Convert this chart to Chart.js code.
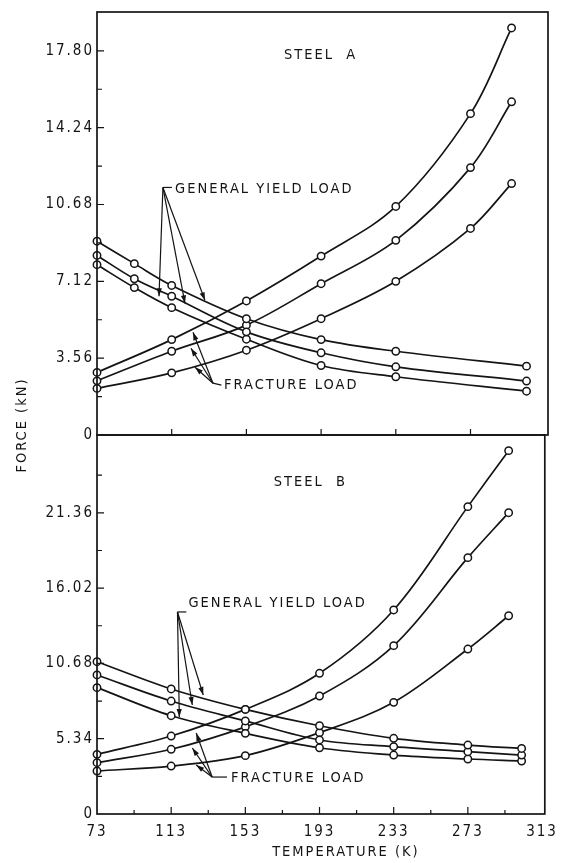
<!DOCTYPE html>
<html><head><meta charset="utf-8">
<script src="https://cdn.jsdelivr.net/npm/chart.js@4/dist/chart.umd.min.js"></script>
<style>
html,body{margin:0;padding:0;background:#fff;}
#wrap{position:relative;width:564px;height:863px;overflow:hidden;}
.c{position:absolute;left:0;top:0;width:564px;height:863px;}
</style></head><body>
<div id="wrap">
<div class="c"><canvas id="cA"></canvas></div>
<div class="c"><canvas id="cB"></canvas></div>
</div>
<script>
// ---------- DATA ----------
const tempYieldA    = [73, 93, 113, 153, 193, 233, 303];
const tempFractureA = [73, 113, 153, 193, 233, 273, 295];
const tempYieldB    = [73, 113, 153, 193, 233, 273, 302];
const tempFractureB = [73, 113, 153, 193, 233, 273, 295];

const steelA_yield1    = [8.98, 7.94, 6.93, 5.39, 4.42, 3.88, 3.19];
const steelA_yield2    = [8.32, 7.24, 6.43, 4.78, 3.81, 3.16, 2.50];
const steelA_yield3    = [7.89, 6.83, 5.90, 4.44, 3.22, 2.70, 2.03];
const steelA_fracture1 = [2.90, 4.42, 6.21, 8.29, 10.59, 14.89, 18.86];
const steelA_fracture2 = [2.51, 3.88, 5.09, 7.01, 9.02, 12.39, 15.44];
const steelA_fracture3 = [2.16, 2.88, 3.93, 5.39, 7.12, 9.57, 11.65];

const steelB_yield1    = [10.80, 8.87, 7.42, 6.26, 5.37, 4.89, 4.65];
const steelB_yield2    = [9.86, 8.01, 6.60, 5.25, 4.78, 4.42, 4.18];
const steelB_yield3    = [8.96, 6.97, 5.72, 4.70, 4.18, 3.90, 3.76];
const steelB_fracture1 = [4.23, 5.53, 7.42, 9.98, 14.47, 21.80, 25.77];
const steelB_fracture2 = [3.64, 4.59, 6.18, 8.37, 11.94, 18.18, 21.37];
const steelB_fracture3 = [3.05, 3.40, 4.14, 5.77, 7.92, 11.70, 14.06];

const xTickValues  = [73, 113, 153, 193, 233, 273, 313];
const xTickLabels  = ['73', '113', '153', '193', '233', '273', '313'];
const yTickValuesA = [0, 3.56, 7.12, 10.68, 14.24, 17.80];
const yTickLabelsA = ['0', '3.56', '7.12', '10.68', '14.24', '17.80'];
const yTickValuesB = [0, 5.34, 10.68, 16.02, 21.36];
const yTickLabelsB = ['0', '5.34', '10.68', '16.02', '21.36'];

// ---------- STYLE / LAYOUT ----------
const FONT = '"DejaVu Sans Condensed", "DejaVu Sans", sans-serif';
const INK = '#141414';
const X_MIN = 73, X_MAX = 314.5;

function mids(arr){ const m=[]; for(let i=0;i<arr.length-1;i++) m.push((arr[i]+arr[i+1])/2); return m; }
function series(temps, vals){ return temps.map((t,i)=>({x:t, y:vals[i]})); }
function ds(temps, vals){
  return { data: series(temps, vals), borderColor: INK, borderWidth: 1.7,
    pointRadius: 3.7, pointBorderWidth: 1.5, pointBackgroundColor: '#fff', pointBorderColor: INK,
    tension: 0.35, fill: false, clip: false };
}
function labelFor(values, labels){
  return v => { const i = values.findIndex(m => Math.abs(m - v) < 1e-6); return i >= 0 ? labels[i] : ''; };
}
function arrow(ctx, x1, y1, x2, y2){
  ctx.beginPath(); ctx.moveTo(x1,y1); ctx.lineTo(x2,y2); ctx.stroke();
  const a = Math.atan2(y2-y1, x2-x1), L = 8, W = 2.6;
  ctx.beginPath();
  ctx.moveTo(x2, y2);
  ctx.lineTo(x2 - L*Math.cos(a) + W*Math.sin(a), y2 - L*Math.sin(a) - W*Math.cos(a));
  ctx.lineTo(x2 - L*Math.cos(a) - W*Math.sin(a), y2 - L*Math.sin(a) + W*Math.cos(a));
  ctx.closePath(); ctx.fill();
}
function makeDecor(cfg){
  return {
    id: 'decor',
    beforeDraw(chart){ chart.ctx.letterSpacing = '2px'; },
    afterDraw(chart){
      const ctx = chart.ctx, a = chart.chartArea, xs = chart.scales.x, ys = chart.scales.y;
      const X = v => xs.getPixelForValue(v), Y = v => ys.getPixelForValue(v);
      ctx.save();
      ctx.strokeStyle = INK; ctx.fillStyle = INK;
      ctx.lineWidth = 1.7;
      ctx.strokeRect(a.left, a.top, a.right - a.left, a.bottom - a.top);
      ctx.lineWidth = 1.2;
      ctx.beginPath();
      cfg.xTicks.forEach(t => { const p = X(t[0]); ctx.moveTo(p, a.bottom); ctx.lineTo(p, a.bottom - t[1]); });
      cfg.yTicks.forEach(t => { const p = Y(t[0]); ctx.moveTo(a.left, p); ctx.lineTo(a.left + t[1], p); });
      ctx.stroke();
      ctx.lineWidth = 1.2;
      cfg.leaders.forEach(l => {
        ctx.beginPath();
        l.forEach((pt, i) => i ? ctx.lineTo(X(pt[0]), Y(pt[1])) : ctx.moveTo(X(pt[0]), Y(pt[1])));
        ctx.stroke();
      });
      cfg.arrows.forEach(ar => arrow(ctx, X(ar[0][0]), Y(ar[0][1]), X(ar[1][0]), Y(ar[1][1])));
      ctx.font = '14.5px ' + FONT; ctx.letterSpacing = '2px';
      ctx.textBaseline = 'middle'; ctx.textAlign = 'left';
      cfg.labels.forEach(l => ctx.fillText(l.text, X(l.at[0]), Y(l.at[1])));
      if (cfg.extra) cfg.extra(ctx, a);
      ctx.restore();
    }
  };
}
function makeChart(id, c){
  return new Chart(document.getElementById(id), {
    type: 'line',
    data: { datasets: c.datasets },
    options: {
      responsive: true, maintainAspectRatio: false, animation: false,
      layout: { padding: c.padding },
      plugins: { legend: { display: false }, tooltip: { enabled: false } },
      events: [],
      scales: {
        x: { type: 'linear', min: X_MIN, max: X_MAX,
          grid: { display: false, drawTicks: false, tickLength: 0 }, border: { display: false },
          afterBuildTicks: s => { s.ticks = xTickValues.map(v => ({ value: v })); },
          afterFit: s => { s.height = c.xHeight; },
          ticks: { display: c.showX, autoSkip: false, maxRotation: 0, minRotation: 0, padding: 9,
            color: INK, font: { family: FONT, size: 15 }, callback: labelFor(xTickValues, xTickLabels) } },
        y: { type: 'linear', min: 0, max: c.yMax,
          grid: { display: false, drawTicks: false, tickLength: 0 }, border: { display: false },
          afterBuildTicks: s => { s.ticks = c.yVals.map(v => ({ value: v })); },
          afterFit: s => { s.width = 97; },
          ticks: { autoSkip: false, padding: 3, color: INK, font: { family: FONT, size: 15 },
            callback: labelFor(c.yVals, c.yLabels) } }
      }
    },
    plugins: [makeDecor(c.decor)]
  });
}

// ---------- STEEL A ----------
makeChart('cA', {
  padding: { left: 0, top: 11, right: 16, bottom: 428 },
  xHeight: 0, showX: false, yMax: 19.6,
  yVals: yTickValuesA, yLabels: yTickLabelsA,
  datasets: [
    ds(tempYieldA, steelA_yield1), ds(tempYieldA, steelA_yield2), ds(tempYieldA, steelA_yield3),
    ds(tempFractureA, steelA_fracture1), ds(tempFractureA, steelA_fracture2), ds(tempFractureA, steelA_fracture3)
  ],
  decor: {
    xTicks: [[113,6],[153,6],[193,6],[233,6],[273,6]],
    yTicks: yTickValuesA.slice(1).map(v => [v, 7]).concat(mids(yTickValuesA).map(v => [v, 5])),
    leaders: [ [[113.1, 11.47], [108.3, 11.47]], [[135.1, 2.40], [139.6, 2.31]] ],
    arrows: [
      [[108.3, 11.47], [106.2, 6.43]], [[108.3, 11.47], [120.1, 6.10]], [[108.3, 11.47], [130.8, 6.24]],
      [[135.1, 2.40], [124.4, 4.76]], [[135.1, 2.40], [123.3, 4.02]], [[135.1, 2.40], [125.5, 3.14]]
    ],
    labels: [
      { text: 'STEEL  A', at: [173.1, 17.61] },
      { text: 'GENERAL YIELD LOAD', at: [114.8, 11.40] },
      { text: 'FRACTURE LOAD', at: [141.0, 2.31] }
    ],
    extra: (ctx, a) => {
      ctx.save();
      ctx.translate(22, a.bottom - 10);
      ctx.rotate(-Math.PI / 2);
      ctx.textAlign = 'center'; ctx.textBaseline = 'middle';
      ctx.fillText('FORCE (kN)', 0, 0);
      ctx.restore();
    }
  }
});

// ---------- STEEL B ----------
makeChart('cB', {
  padding: { left: 0, top: 435, right: 16, bottom: 0 },
  xHeight: 49, showX: true, yMax: 26.88,
  yVals: yTickValuesB, yLabels: yTickLabelsB,
  datasets: [
    ds(tempYieldB, steelB_yield1), ds(tempYieldB, steelB_yield2), ds(tempYieldB, steelB_yield3),
    ds(tempFractureB, steelB_fracture1), ds(tempFractureB, steelB_fracture2), ds(tempFractureB, steelB_fracture3)
  ],
  decor: {
    xTicks: [[113,7],[153,7],[193,7],[233,7],[273,7]].concat(mids(xTickValues).map(v => [v, 4])),
    yTicks: yTickValuesB.slice(1).map(v => [v, 7]).concat(mids(yTickValuesB).concat([24.03]).map(v => [v, 5])),
    leaders: [ [[121.2, 14.33], [116.4, 14.33]], [[135.1, 2.62], [143.1, 2.62]] ],
    arrows: [
      [[116.4, 14.33], [117.4, 6.88]], [[116.4, 14.33], [124.4, 7.73]], [[116.4, 14.33], [130.3, 8.44]],
      [[135.1, 2.62], [126.5, 5.74]], [[135.1, 2.62], [124.4, 4.68]], [[135.1, 2.62], [126.5, 3.48]]
    ],
    labels: [
      { text: 'STEEL  B', at: [168.3, 23.55] },
      { text: 'GENERAL YIELD LOAD', at: [122.3, 14.96] },
      { text: 'FRACTURE LOAD', at: [145.3, 2.55] }
    ],
    extra: (ctx, a) => {
      ctx.textAlign = 'center'; ctx.textBaseline = 'middle';
      ctx.fillText('TEMPERATURE (K)', (a.left + a.right) / 2 + 25, a.bottom + 38);
    }
  }
});
</script>
</body></html>
